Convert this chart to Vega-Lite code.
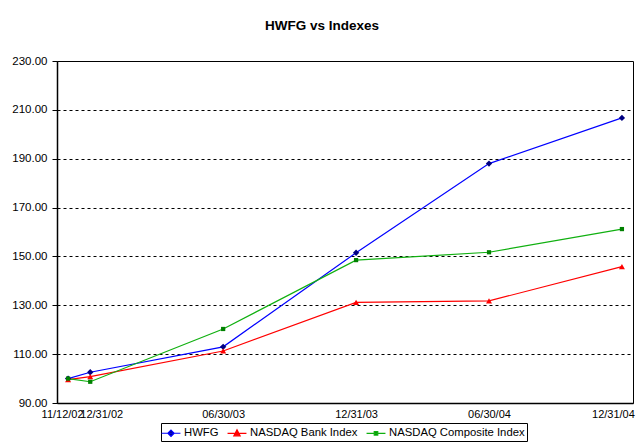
{
  "$schema": "https://vega.github.io/schema/vega-lite/v6.json",
  "autosize": {"type": "none"},
  "width": 576,
  "height": 342,
  "padding": {"left": 57, "top": 61, "right": 11, "bottom": 40},
  "background": "white",
  "config": {
    "font": "Liberation Sans",
    "view": {"stroke": "black", "strokeWidth": 1}
  },
  "title": {
    "text": "HWFG vs Indexes",
    "font": "Liberation Sans",
    "fontSize": 13.5,
    "fontWeight": "bold",
    "anchor": "middle",
    "frame": "group",
    "dx": -23,
    "offset": 23,
    "color": "black"
  },
  "data": {
    "values": [
      {"period": -1, "date": "11/12/02", "series": "HWFG", "value": 100.0},
      {"period": 0, "date": "12/31/02", "series": "HWFG", "value": 102.6},
      {"period": 6, "date": "06/30/03", "series": "HWFG", "value": 113.0},
      {"period": 12, "date": "12/31/03", "series": "HWFG", "value": 151.5},
      {"period": 18, "date": "06/30/04", "series": "HWFG", "value": 188.0},
      {"period": 24, "date": "12/31/04", "series": "HWFG", "value": 206.7},
      {"period": -1, "date": "11/12/02", "series": "NASDAQ Bank Index", "value": 99.6},
      {"period": 0, "date": "12/31/02", "series": "NASDAQ Bank Index", "value": 100.8},
      {"period": 6, "date": "06/30/03", "series": "NASDAQ Bank Index", "value": 111.3},
      {"period": 12, "date": "12/31/03", "series": "NASDAQ Bank Index", "value": 131.2},
      {"period": 18, "date": "06/30/04", "series": "NASDAQ Bank Index", "value": 131.8},
      {"period": 24, "date": "12/31/04", "series": "NASDAQ Bank Index", "value": 145.8},
      {"period": -1, "date": "11/12/02", "series": "NASDAQ Composite Index", "value": 100.0},
      {"period": 0, "date": "12/31/02", "series": "NASDAQ Composite Index", "value": 98.7},
      {"period": 6, "date": "06/30/03", "series": "NASDAQ Composite Index", "value": 120.3},
      {"period": 12, "date": "12/31/03", "series": "NASDAQ Composite Index", "value": 148.5},
      {"period": 18, "date": "06/30/04", "series": "NASDAQ Composite Index", "value": 151.7},
      {"period": 24, "date": "12/31/04", "series": "NASDAQ Composite Index", "value": 161.2}
    ]
  },
  "encoding": {
    "x": {
      "field": "period",
      "type": "quantitative",
      "scale": {"domain": [-1.5, 24.5], "nice": false, "zero": false},
      "axis": {
        "title": null,
        "values": [-1, 0, 6, 12, 18, 24],
        "labelExpr": "datum.value == -1 ? '11/12/02' : datum.value == 0 ? '12/31/02' : datum.value == 6 ? '06/30/03' : datum.value == 12 ? '12/31/03' : datum.value == 18 ? '06/30/04' : '12/31/04'",
        "labelOverlap": false,
        "labelFont": "Liberation Sans",
        "labelFontSize": 11,
        "labelColor": "black",
        "labelPadding": 5,
        "labelOffset": {
          "condition": [
            {"test": "datum.value == -1", "value": -6},
            {"test": "datum.value == 0", "value": 11},
            {"test": "datum.value == 24", "value": -9}
          ],
          "value": 0
        },
        "ticks": false,
        "grid": false,
        "domainColor": "black",
        "domainWidth": 1.5
      }
    },
    "y": {
      "field": "value",
      "type": "quantitative",
      "scale": {"domain": [90, 230], "nice": false, "zero": false},
      "axis": {
        "title": null,
        "values": [90, 110, 130, 150, 170, 190, 210, 230],
        "format": ".2f",
        "labelFont": "Liberation Sans",
        "labelFontSize": 11.5,
        "labelColor": "black",
        "labelPadding": 5,
        "tickSize": 5,
        "tickColor": "black",
        "domainColor": "black",
        "domainWidth": 1.5,
        "grid": true,
        "gridColor": "black",
        "gridDash": [3, 3],
        "gridWidth": 1,
        "gridOpacity": {"condition": {"test": "datum.value == 90 || datum.value == 230", "value": 0}, "value": 1}
      }
    }
  },
  "layer": [
    {
      "mark": {"type": "line", "strokeWidth": 1.2},
      "encoding": {
        "color": {
          "field": "series",
          "type": "nominal",
          "scale": {
            "domain": ["HWFG", "NASDAQ Bank Index", "NASDAQ Composite Index"],
            "range": ["#0000ff", "#ff0000", "#10b010"]
          },
          "legend": {
            "title": null,
            "orient": "none",
            "legendX": 104,
            "legendY": 362,
            "direction": "horizontal",
            "strokeColor": "black",
            "fillColor": "white",
            "padding": 2,
            "labelFont": "Liberation Sans",
            "labelFontSize": 11.3,
            "labelColor": "black",
            "labelOffset": 5,
            "columnPadding": 6,
            "symbolSize": 196,
            "symbolStrokeWidth": 1.2,
            "encode": {
              "symbols": {
                "update": {
                  "shape": {"signal": "datum.value == 'HWFG' ? 'M-1.35,0L1.35,0M0,-0.45L0.45,0L0,0.45L-0.45,0Z' : datum.value == 'NASDAQ Bank Index' ? 'M-1.35,0L1.35,0M0,-0.5L0.45,0.35L-0.45,0.35Z' : 'M-1.35,0L1.35,0M-0.25,-0.25L0.25,-0.25L0.25,0.25L-0.25,0.25Z'"},
                  "fill": {"signal": "datum.value == 'HWFG' ? '#000080' : datum.value == 'NASDAQ Bank Index' ? '#ff0000' : '#008000'"},
                  "fillOpacity": {"value": 1}
                }
              }
            }
          }
        }
      }
    },
    {
      "transform": [{"filter": "datum.series == 'HWFG'"}],
      "mark": {"type": "point", "filled": true, "opacity": 1, "size": 40, "shape": "diamond", "color": "#000080"}
    },
    {
      "transform": [{"filter": "datum.series == 'NASDAQ Bank Index'"}],
      "mark": {"type": "point", "filled": true, "opacity": 1, "size": 36, "shape": "triangle-up", "color": "#ff0000"}
    },
    {
      "transform": [{"filter": "datum.series == 'NASDAQ Composite Index'"}],
      "mark": {"type": "point", "filled": true, "opacity": 1, "size": 18, "shape": "square", "color": "#008000"}
    }
  ]
}
